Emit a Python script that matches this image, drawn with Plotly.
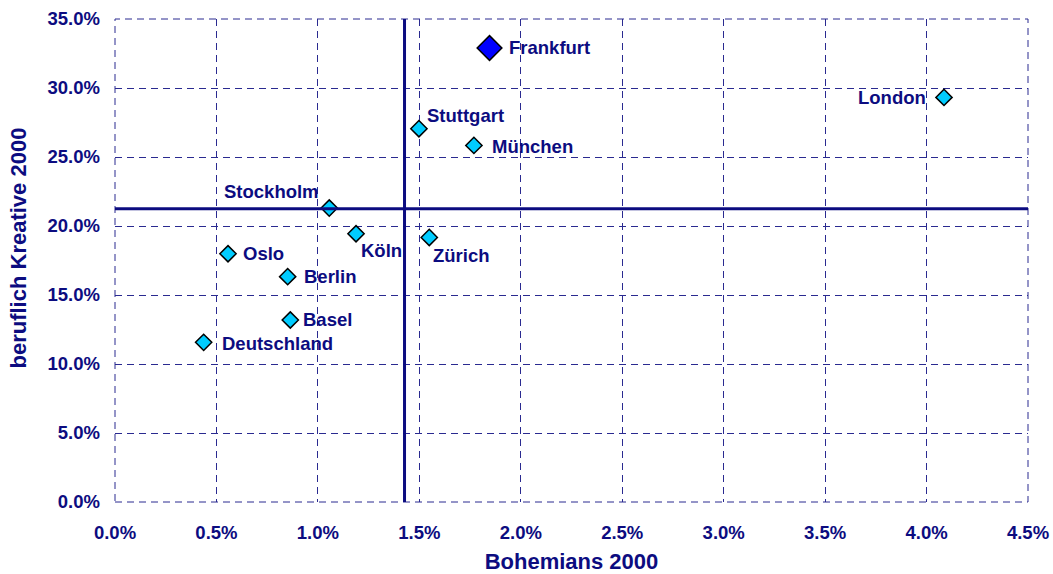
import plotly.graph_objects as go

# ---- data (fractions) ----
cities = ["Frankfurt", "London", "Stuttgart", "München", "Stockholm", "Köln",
          "Zürich", "Oslo", "Berlin", "Basel", "Deutschland"]
bohemians = [0.01846, 0.04086, 0.01498, 0.01769, 0.01056, 0.01188,
             0.01549, 0.00557, 0.00851, 0.00864, 0.00437]
kreative = [0.3290, 0.2932, 0.2705, 0.2584, 0.2130, 0.1944,
            0.1917, 0.1799, 0.1633, 0.1319, 0.1157]
highlight = "Frankfurt"
mean_bohemians = 0.01427
mean_kreative = 0.2125
x_ticks = [i * 0.005 for i in range(10)]
y_ticks = [i * 0.05 for i in range(8)]
x_title = "Bohemians 2000"
y_title = "beruflich Kreative 2000"

NAVY = "#0c0c80"
GRID = "#2a2a90"
FONT = "Liberation Sans"
DASH = "7px,5px"

# label placement (pixel offsets, anchors)
label_pos = {
    "Frankfurt": (17, 0, "left"),
    "London": (-16, 0, "right"),
    "Stuttgart": (6, 13, "left"),
    "München": (16, -1, "left"),
    "Stockholm": (-8, 17, "right"),
    "Köln": (3, -17, "left"),
    "Zürich": (2, -18, "left"),
    "Oslo": (13, 0, "left"),
    "Berlin": (14, 0, "left"),
    "Basel": (11, 0, "left"),
    "Deutschland": (16, -1, "left"),
}

fig = go.Figure()

norm = [i for i, c in enumerate(cities) if c != highlight]
hi = [i for i, c in enumerate(cities) if c == highlight]

fig.add_trace(go.Scatter(
    x=[bohemians[i] for i in norm], y=[kreative[i] for i in norm],
    mode="markers", text=[cities[i] for i in norm],
    marker=dict(symbol="diamond", size=12.5, color="#00ccff",
                line=dict(color="black", width=1.5)),
    showlegend=False, cliponaxis=False))
fig.add_trace(go.Scatter(
    x=[bohemians[i] for i in hi], y=[kreative[i] for i in hi],
    mode="markers", text=[cities[i] for i in hi],
    marker=dict(symbol="diamond", size=19, color="#0000ff",
                line=dict(color="black", width=1.5)),
    showlegend=False, cliponaxis=False))

for c, xv, yv in zip(cities, bohemians, kreative):
    dx, dy, anchor = label_pos[c]
    fig.add_annotation(x=xv, y=yv, text=c, showarrow=False,
                       xanchor=anchor, yanchor="middle",
                       xshift=dx, yshift=dy,
                       font=dict(family=FONT, size=18.5, color=NAVY, weight="bold"))

# y axis title (as annotation so it can sit slightly above centre, like the original)
fig.add_annotation(xref="paper", yref="paper", x=0, y=0.5, xshift=-97, yshift=12,
                   text=y_title, textangle=-90, showarrow=False,
                   xanchor="center", yanchor="middle",
                   font=dict(family=FONT, size=22, color=NAVY, weight="bold"))

# dashed border of the plot area
fig.add_shape(type="rect", xref="paper", yref="paper", x0=0, x1=1, y0=0, y1=1,
              line=dict(color=GRID, width=1, dash=DASH), layer="below")

fig.add_shape(type="line", xref="x", yref="paper",
              x0=mean_bohemians, x1=mean_bohemians, y0=0, y1=1,
              line=dict(color=NAVY, width=3), layer="above")
fig.add_shape(type="line", xref="paper", yref="y",
              x0=0, x1=1, y0=mean_kreative, y1=mean_kreative,
              line=dict(color=NAVY, width=3), layer="above")

axis_common = dict(
    showgrid=True, gridcolor=GRID, gridwidth=1, griddash=DASH,
    zeroline=False, showline=False, ticks="", automargin=False,
    tickformat=".1%",
    tickfont=dict(family=FONT, size=18.5, color=NAVY, weight="bold"),
)

fig.update_layout(
    width=1053, height=574,
    margin=dict(l=115, r=25, t=19, b=72),
    paper_bgcolor="white", plot_bgcolor="white",
    xaxis=dict(range=[0, 0.045], tickvals=x_ticks, ticklabelstandoff=17,
               title=dict(text=x_title, standoff=14,
                          font=dict(family=FONT, size=22, color=NAVY, weight="bold")),
               **axis_common),
    yaxis=dict(range=[0, 0.35], tickvals=y_ticks, ticklabelstandoff=14,
               **axis_common),
)

fig.write_html("out.html", config={"displayModeBar": False})

# remove the browser's default page margin so the figure fills the window
with open("out.html", encoding="utf-8") as f:
    html = f.read()
html = html.replace("<body>", '<body style="margin:0;overflow:hidden">', 1)
with open("out.html", "w", encoding="utf-8") as f:
    f.write(html)
